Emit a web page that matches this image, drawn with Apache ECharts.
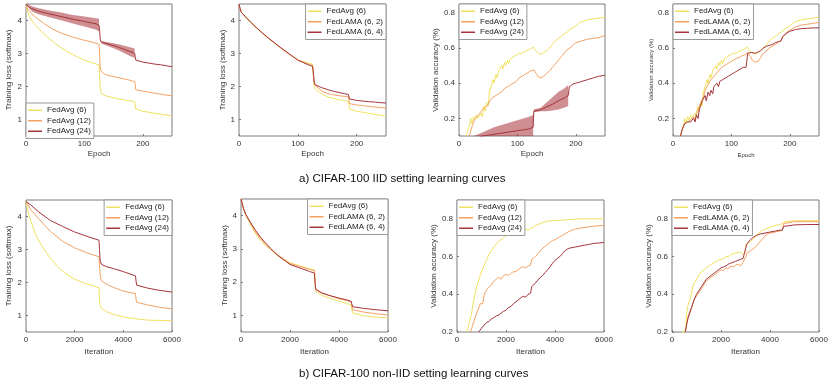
<!DOCTYPE html>
<html><head><meta charset="utf-8">
<script src="https://cdn.jsdelivr.net/npm/echarts@6/dist/echarts.min.js"></script>
<style>html,body{margin:0;padding:0;background:#fff}#c{width:831px;height:384px}</style>
</head><body><div id="c"></div><script>
// ---------- DATA ----------
// Panel 1: CIFAR-100 IID, training loss, FedAvg
const p1Ep = [0,3,6,10,15,20,30,40,50,60,70,80,90,100,110,120,125,126,127,128,130,135,140,150,160,170,180,186,187,188,190,200,210,220,230,240,250];
const p1Fed6 = [4.45,4.25,4.12,4.0,3.88,3.78,3.6,3.45,3.3,3.18,3.07,2.97,2.88,2.8,2.74,2.68,2.65,2.4,2.0,1.85,1.78,1.73,1.7,1.66,1.62,1.59,1.56,1.54,1.45,1.32,1.28,1.25,1.22,1.19,1.16,1.13,1.11];
const p1Fed12 = [4.45,4.35,4.28,4.2,4.12,4.05,3.92,3.8,3.7,3.62,3.56,3.5,3.45,3.4,3.36,3.31,3.28,3.0,2.6,2.48,2.42,2.37,2.34,2.3,2.26,2.22,2.18,2.15,2.05,1.9,1.88,1.86,1.83,1.8,1.77,1.74,1.72];
const p1RedEp = [0,5,10,20,40,60,80,100,120,125,126,127,128,129,140,150,160,170,180,186,187,188,190,200,210,220,230,240,250];
const p1Fed24 = [4.5,4.4,4.36,4.29,4.2,4.12,4.04,3.97,3.9,3.86,3.7,3.45,3.36,3.34,3.29,3.24,3.18,3.11,3.05,3.01,2.9,2.8,2.77,2.74,2.71,2.68,2.66,2.63,2.6];
const p1BandAEp = [2,10,20,40,60,80,100,120,125];
const p1BandAHi = [4.5,4.43,4.38,4.3,4.24,4.17,4.12,4.07,4.05];
const p1BandALo = [4.45,4.28,4.2,4.1,4.01,3.91,3.82,3.72,3.67];
const p1BandBEp = [129,140,150,160,170,180,186];
const p1BandBHi = [3.37,3.34,3.31,3.27,3.23,3.18,3.15];
const p1BandBLo = [3.3,3.23,3.16,3.08,2.99,2.91,2.86];

// Panel 2: CIFAR-100 IID, training loss, FedAvg vs FedLAMA
const p2Ep = [0,2,4,6,10,20,30,40,50,60,70,80,90,100,110,120,125,126,127,128,130,140,150,160,170,180,186,187,188,190,200,210,220,230,240,250];
const p2Fed6 = [4.5,4.35,4.25,4.2,4.13,3.94,3.77,3.61,3.46,3.32,3.18,3.05,2.92,2.81,2.75,2.7,2.68,2.5,2.2,2.0,1.92,1.78,1.69,1.64,1.6,1.57,1.55,1.45,1.32,1.28,1.25,1.22,1.19,1.16,1.13,1.11];
const p2Lama62 = [4.5,4.35,4.25,4.2,4.13,3.94,3.77,3.61,3.46,3.32,3.18,3.05,2.92,2.8,2.73,2.67,2.65,2.5,2.25,2.06,2.0,1.87,1.79,1.75,1.72,1.7,1.69,1.6,1.48,1.46,1.44,1.42,1.4,1.38,1.36,1.35];
const p2Lama64 = [4.5,4.35,4.25,4.2,4.13,3.95,3.78,3.62,3.47,3.33,3.19,3.06,2.93,2.8,2.72,2.64,2.61,2.5,2.3,2.12,2.05,1.97,1.91,1.86,1.82,1.78,1.76,1.7,1.62,1.6,1.58,1.56,1.54,1.53,1.51,1.5];

// Panels 3 & 4: CIFAR-100 IID, validation accuracy
const accFed6Ep = [12,15,18,20,22,25,27,30,32,35,38,40,42,45,47,50,52,55,58,60,63,65,68,70,73,75,78,80,83,85,88,90,93,95,98,100,103,105,108,110,113,115,118,120,123,125,127,130,133,136,140,143,146,150,155,160,165,170,175,180,185,190,195,200,205,210,220,230,240,250];
const accFed6 = [0.1,0.13,0.16,0.2,0.17,0.21,0.19,0.22,0.2,0.19,0.23,0.21,0.27,0.24,0.29,0.27,0.35,0.38,0.42,0.4,0.45,0.43,0.47,0.46,0.5,0.48,0.52,0.5,0.53,0.51,0.54,0.53,0.55,0.54,0.56,0.55,0.57,0.56,0.57,0.56,0.58,0.57,0.59,0.58,0.595,0.59,0.605,0.59,0.58,0.57,0.565,0.57,0.575,0.585,0.6,0.62,0.64,0.655,0.665,0.68,0.69,0.705,0.715,0.725,0.74,0.75,0.76,0.765,0.77,0.775];
const accFed12Ep = [18,20,23,25,28,30,33,35,38,40,43,45,48,50,53,55,58,60,63,65,68,70,73,75,78,80,83,85,88,90,93,95,98,100,103,105,108,110,113,115,118,120,123,125,128,130,133,136,140,145,150,155,160,165,170,175,180,185,190,195,200,210,220,230,240,250];
const accFed12 = [0.1,0.13,0.16,0.18,0.2,0.21,0.22,0.23,0.24,0.25,0.26,0.25,0.27,0.27,0.3,0.3,0.32,0.31,0.33,0.32,0.34,0.33,0.35,0.35,0.37,0.36,0.38,0.38,0.39,0.39,0.4,0.41,0.41,0.42,0.43,0.43,0.44,0.44,0.45,0.45,0.46,0.455,0.47,0.46,0.475,0.465,0.45,0.435,0.43,0.44,0.455,0.47,0.49,0.51,0.53,0.55,0.57,0.59,0.6,0.615,0.63,0.64,0.65,0.655,0.66,0.67];
const accFed24Ep = [25,40,60,80,100,120,127,128,130,140,150,160,170,180,187,189,190,195,200,210,220,230,240,250];
const accFed24 = [0.08,0.1,0.11,0.12,0.13,0.14,0.15,0.24,0.245,0.25,0.265,0.28,0.3,0.315,0.33,0.38,0.39,0.395,0.4,0.41,0.42,0.43,0.44,0.445];
const accBandAEp = [25,40,60,80,100,120,127];
const accBandAHi = [0.1,0.12,0.15,0.17,0.19,0.21,0.22];
const accBandALo = [0.05,0.05,0.05,0.05,0.05,0.05,0.05];
const accBandBEp = [128,140,150,160,170,180,187];
const accBandBHi = [0.25,0.26,0.29,0.32,0.35,0.37,0.39];
const accBandBLo = [0.235,0.24,0.24,0.245,0.25,0.26,0.27];
const accLama62Ep = [13,16,20,25,30,35,38,40,43,45,48,50,53,55,58,60,63,65,68,70,73,75,78,80,83,85,88,90,93,95,98,100,103,105,108,110,113,115,118,120,123,125,127,130,133,136,140,143,146,150,153,157,160,165,170,175,180,185,188,190,195,200,210,220,230,240,250];
const accLama62 = [0.1,0.14,0.17,0.18,0.19,0.21,0.19,0.23,0.25,0.24,0.29,0.31,0.33,0.36,0.38,0.37,0.41,0.4,0.43,0.44,0.45,0.46,0.47,0.475,0.49,0.49,0.5,0.5,0.51,0.515,0.52,0.525,0.53,0.53,0.54,0.535,0.545,0.55,0.555,0.55,0.56,0.565,0.575,0.565,0.55,0.53,0.52,0.515,0.525,0.545,0.565,0.575,0.58,0.6,0.61,0.62,0.63,0.645,0.665,0.675,0.69,0.7,0.72,0.73,0.735,0.74,0.745];
const accLama64Ep = [13,16,20,25,30,33,35,38,40,43,45,48,50,53,55,57,60,63,65,68,70,73,75,78,80,83,85,88,90,93,95,98,100,103,105,108,110,113,115,118,120,123,125,127,128,130,135,140,145,150,155,160,165,170,175,180,185,188,190,195,200,210,220,230,240,250];
const accLama64 = [0.1,0.14,0.17,0.18,0.18,0.17,0.2,0.18,0.22,0.2,0.25,0.26,0.3,0.29,0.33,0.3,0.35,0.33,0.36,0.34,0.38,0.37,0.4,0.38,0.41,0.4,0.42,0.41,0.43,0.42,0.44,0.43,0.45,0.44,0.46,0.45,0.47,0.46,0.48,0.47,0.49,0.48,0.49,0.5,0.57,0.575,0.575,0.57,0.575,0.585,0.6,0.61,0.615,0.62,0.63,0.635,0.64,0.665,0.675,0.685,0.695,0.705,0.71,0.712,0.714,0.715];

// Panel 5: CIFAR-100 non-IID, training loss, FedAvg
const nl5Fed6It = [0,100,200,300,400,500,700,1000,1300,1600,2000,2400,2800,3000,3020,3050,3100,3300,3600,4000,4400,4700,5000,5500,6000];
const nl5Fed6 = [4.45,4.1,3.85,3.65,3.45,3.3,3.05,2.73,2.48,2.28,2.1,1.98,1.89,1.84,1.5,1.3,1.22,1.12,1.03,0.96,0.91,0.88,0.86,0.85,0.84];
const nl5It = [0,200,500,1000,1500,2000,2500,3000,3020,3050,3100,3300,3600,4000,4500,4520,4550,4600,5000,5500,6000];
const nl5Fed12 = [4.45,4.2,3.95,3.55,3.25,3.05,2.9,2.78,2.5,2.2,2.05,1.95,1.85,1.74,1.66,1.5,1.4,1.38,1.32,1.25,1.2];
const nl5Fed24 = [4.45,4.35,4.15,3.88,3.7,3.53,3.4,3.28,3.0,2.65,2.55,2.48,2.42,2.33,2.2,2.05,1.92,1.89,1.83,1.76,1.71];

// Panel 6: CIFAR-100 non-IID, training loss, FedAvg vs FedLAMA
const nl6It = [0,100,200,400,600,800,1000,1200,1500,2000,2500,2800,3000,3020,3050,3100,3300,3600,4000,4300,4500,4520,4560,4600,5000,5500,6000];
const nl6Fed6 = [4.5,4.2,4.0,3.72,3.45,3.25,3.1,2.98,2.8,2.58,2.47,2.4,2.36,2.0,1.72,1.67,1.6,1.52,1.43,1.36,1.3,1.2,1.07,1.04,0.99,0.95,0.92];
const nl6Lama62 = [4.5,4.22,4.02,3.75,3.5,3.3,3.14,3.0,2.82,2.56,2.45,2.38,2.35,2.05,1.8,1.75,1.68,1.6,1.5,1.45,1.4,1.3,1.17,1.14,1.1,1.05,1.01];
const nl6Lama64 = [4.5,4.22,4.03,3.78,3.55,3.35,3.18,3.02,2.8,2.53,2.4,2.32,2.27,2.0,1.78,1.74,1.67,1.6,1.52,1.47,1.42,1.35,1.26,1.25,1.21,1.17,1.14];

// Panel 7: CIFAR-100 non-IID, validation accuracy, FedAvg
const na7Fed6It = [380,450,500,550,600,650,700,750,800,900,1000,1100,1200,1300,1400,1500,1600,1700,1800,1900,2000,2200,2400,2600,2800,2900,3000,3100,3200,3400,3600,3800,4000,4500,5000,5500,6000];
const na7Fed6 = [0.2,0.22,0.25,0.26,0.3,0.35,0.38,0.41,0.44,0.48,0.52,0.55,0.58,0.61,0.63,0.65,0.665,0.68,0.69,0.7,0.71,0.72,0.735,0.74,0.745,0.74,0.75,0.755,0.765,0.775,0.785,0.79,0.79,0.795,0.8,0.8,0.8];
const na7Fed12It = [544,600,700,750,800,850,900,950,1000,1050,1100,1150,1200,1250,1300,1400,1500,1550,1600,1700,1800,1900,2000,2100,2200,2300,2400,2500,2600,2700,2800,2900,3000,3050,3100,3200,3300,3400,3500,3600,3700,3800,3900,4000,4200,4400,4600,4800,5000,5500,6000];
const na7Fed12 = [0.2,0.22,0.26,0.28,0.3,0.29,0.33,0.35,0.36,0.35,0.39,0.41,0.4,0.43,0.44,0.45,0.47,0.46,0.48,0.49,0.48,0.5,0.505,0.5,0.51,0.52,0.52,0.53,0.54,0.545,0.54,0.55,0.555,0.585,0.59,0.6,0.615,0.63,0.645,0.655,0.665,0.675,0.685,0.69,0.705,0.72,0.735,0.745,0.75,0.76,0.765];
const na7Fed24It = [884,950,1000,1100,1200,1300,1400,1500,1600,1700,1800,1900,2000,2100,2200,2300,2400,2500,2600,2700,2800,2900,3000,3050,3100,3200,3300,3400,3500,3600,3700,3800,3900,4000,4100,4200,4300,4400,4500,4600,4800,5000,5200,5400,5600,5800,6000];
const na7Fed24 = [0.2,0.21,0.22,0.235,0.25,0.255,0.27,0.275,0.285,0.29,0.3,0.31,0.315,0.33,0.335,0.35,0.36,0.37,0.38,0.39,0.385,0.4,0.405,0.44,0.45,0.46,0.475,0.49,0.5,0.515,0.53,0.545,0.565,0.58,0.59,0.6,0.615,0.63,0.64,0.645,0.65,0.655,0.66,0.665,0.67,0.672,0.675];

// Panel 8: CIFAR-100 non-IID, validation accuracy, FedAvg vs FedLAMA
const na8Fed6It = [380,500,560,600,650,700,750,800,850,900,1000,1100,1200,1300,1400,1500,1600,1700,1800,1900,2000,2100,2200,2300,2400,2500,2600,2700,2800,2900,2980,3020,3100,3200,3300,3400,3500,3600,3700,3800,4000,4200,4400,4500,4560,4600,5000,5500,6000];
const na8Fed6 = [0.2,0.2,0.22,0.3,0.34,0.36,0.38,0.41,0.44,0.46,0.48,0.5,0.52,0.53,0.54,0.55,0.56,0.565,0.575,0.58,0.585,0.59,0.6,0.6,0.61,0.615,0.62,0.62,0.625,0.61,0.625,0.665,0.67,0.68,0.69,0.705,0.72,0.73,0.74,0.745,0.755,0.765,0.77,0.775,0.78,0.785,0.79,0.79,0.79];
const na8Lama62It = [545,600,650,700,800,900,1000,1100,1200,1300,1400,1500,1600,1700,1800,1900,2000,2100,2200,2300,2400,2500,2600,2700,2800,2900,2980,3020,3050,3100,3200,3300,3400,3500,3600,3700,3800,3900,4000,4200,4400,4500,4560,4600,5000,5500,6000];
const na8Lama62 = [0.2,0.25,0.28,0.3,0.33,0.37,0.39,0.41,0.43,0.45,0.47,0.48,0.49,0.5,0.51,0.52,0.53,0.525,0.54,0.535,0.55,0.545,0.555,0.56,0.55,0.57,0.575,0.6,0.62,0.625,0.63,0.64,0.65,0.665,0.68,0.695,0.71,0.72,0.725,0.73,0.735,0.74,0.775,0.78,0.785,0.785,0.785];
const na8Lama64It = [545,600,650,700,800,900,1000,1100,1200,1300,1400,1500,1600,1700,1800,1900,2000,2100,2200,2300,2400,2500,2600,2700,2800,2900,2980,3020,3050,3100,3200,3300,3400,3500,3600,3800,4000,4200,4400,4500,4560,4600,5000,5500,6000];
const na8Lama64 = [0.2,0.24,0.27,0.29,0.33,0.37,0.4,0.42,0.44,0.46,0.48,0.49,0.5,0.51,0.52,0.53,0.54,0.545,0.55,0.56,0.565,0.57,0.575,0.58,0.585,0.59,0.59,0.65,0.665,0.675,0.69,0.7,0.71,0.715,0.72,0.725,0.73,0.735,0.74,0.74,0.76,0.765,0.768,0.77,0.77];

const lossTicks = [1,2,3,4];
const accTicks = [0.2,0.4,0.6,0.8];
const epochTicks = [0,100,200];
const iterTicks = [0,2000,4000,6000];
const captionA = 'a) CIFAR-100 IID setting learning curves';
const captionB = 'b) CIFAR-100 non-IID setting learning curves';

// ---------- STYLE / LAYOUT ----------
const FONT = '"Liberation Sans", Arial, Helvetica, sans-serif';
const COL = {y:'#f0e160', o:'#f4a263', r:'#a5363b'};
const BAND = 'rgba(165,50,57,0.55)';
const FRAME = '#7a7a7a';
const zip = (xs, ys) => xs.map((x, i) => [x, ys[i]]);

const panels = [
  {box:[26,4,146,132], x:[0,250,epochTicks], y:[0.5,4.5,lossTicks], xn:'Epoch', yn:'Training loss (softmax)', ygap:13, xgap:14, ns:8,
   leg:{left:26, top:103},
   lines:[['FedAvg (6)',p1Ep,p1Fed6,'y'],['FedAvg (12)',p1Ep,p1Fed12,'o'],['FedAvg (24)',p1RedEp,p1Fed24,'r']],
   bands:[[p1BandAEp,p1BandAHi,p1BandALo],[p1BandBEp,p1BandBHi,p1BandBLo]]},
  {box:[239,4,147,132], x:[0,250,epochTicks], y:[0.5,4.5,lossTicks], xn:'Epoch', yn:'Training loss (softmax)', ygap:11, xgap:14, ns:8,
   leg:{right:831-386, top:4},
   lines:[['FedAvg (6)',p2Ep,p2Fed6,'y'],['FedLAMA (6, 2)',p2Ep,p2Lama62,'o'],['FedLAMA (6, 4)',p2Ep,p2Lama64,'r']]},
  {box:[459,4,146,132], x:[0,250,epochTicks], y:[0.1,0.85,accTicks], xn:'Epoch', yn:'Validation accuracy (%)', ygap:17, xgap:14, ns:8,
   leg:{left:459, top:4},
   lines:[['FedAvg (6)',accFed6Ep,accFed6,'y'],['FedAvg (12)',accFed12Ep,accFed12,'o'],['FedAvg (24)',accFed24Ep,accFed24,'r']],
   bands:[[accBandAEp,accBandAHi,accBandALo],[accBandBEp,accBandBHi,accBandBLo]]},
  {box:[673,4,146,132], x:[0,250,epochTicks], y:[0.1,0.85,accTicks], xn:'Epoch', yn:'Validation accuracy (%)', ygap:18, xgap:16, ns:6,
   leg:{left:673, top:4},
   lines:[['FedAvg (6)',accFed6Ep,accFed6,'y'],['FedLAMA (6, 2)',accLama62Ep,accLama62,'o'],['FedLAMA (6, 4)',accLama64Ep,accLama64,'r']]},
  {box:[26,200,146,132], x:[0,6000,iterTicks], y:[0.5,4.5,lossTicks], xn:'Iteration', yn:'Training loss (softmax)', ygap:13, xgap:16, ns:8,
   leg:{right:831-172, top:200},
   lines:[['FedAvg (6)',nl5Fed6It,nl5Fed6,'y'],['FedAvg (12)',nl5It,nl5Fed12,'o'],['FedAvg (24)',nl5It,nl5Fed24,'r']]},
  {box:[241,199,147,133], x:[0,6000,iterTicks], y:[0.5,4.5,lossTicks], xn:'Iteration', yn:'Training loss (softmax)', ygap:11, xgap:16, ns:8,
   leg:{right:831-388, top:199},
   lines:[['FedAvg (6)',nl6It,nl6Fed6,'y'],['FedLAMA (6, 2)',nl6It,nl6Lama62,'o'],['FedLAMA (6, 4)',nl6It,nl6Lama64,'r']]},
  {box:[457,200,147,132], x:[0,6000,iterTicks], y:[0.2,0.9,accTicks], xn:'Iteration', yn:'Validation accuracy (%)', ygap:19, xgap:16, ns:8,
   leg:{left:457, top:200},
   lines:[['FedAvg (6)',na7Fed6It,na7Fed6,'y'],['FedAvg (12)',na7Fed12It,na7Fed12,'o'],['FedAvg (24)',na7Fed24It,na7Fed24,'r']]},
  {box:[672,200,147,132], x:[0,6000,iterTicks], y:[0.2,0.9,accTicks], xn:'Iteration', yn:'Validation accuracy (%)', ygap:18, xgap:16, ns:8,
   leg:{left:672, top:200},
   lines:[['FedAvg (6)',na8Fed6It,na8Fed6,'y'],['FedLAMA (6, 2)',na8Lama62It,na8Lama62,'o'],['FedLAMA (6, 4)',na8Lama64It,na8Lama64,'r']]}
];

const grid = [], xAxis = [], yAxis = [], series = [], legend = [];
panels.forEach((p, i) => {
  grid.push({left:p.box[0], top:p.box[1], width:p.box[2], height:p.box[3], show:true,
    borderColor:FRAME, borderWidth:1, backgroundColor:'transparent', containLabel:false});
  const lab = {fontSize:8, color:'#333', fontFamily:FONT};
  xAxis.push({type:'value', gridIndex:i, min:p.x[0], max:p.x[1],
    name:p.xn, nameLocation:'middle', nameGap:p.xgap,
    nameTextStyle:{fontSize:p.ns, color:'#333', fontFamily:FONT},
    axisLine:{show:false}, splitLine:{show:false},
    axisTick:{show:true, inside:true, length:2, customValues:p.x[2], lineStyle:{color:FRAME}},
    axisLabel:Object.assign({margin:4, customValues:p.x[2], formatter: v => String(Math.round(v))}, lab)});
  const isAcc = p.y[2] === accTicks;
  yAxis.push({type:'value', gridIndex:i, min:p.y[0], max:p.y[1],
    name:p.yn, nameLocation:'middle', nameGap:p.ygap,
    nameTextStyle:{fontSize:p.ns, color:'#333', fontFamily:FONT},
    axisLine:{show:false}, splitLine:{show:false},
    axisTick:{show:true, inside:true, length:2, customValues:p.y[2], lineStyle:{color:FRAME}},
    axisLabel:Object.assign({margin:4, customValues:p.y[2],
      formatter: v => isAcc ? Number(v).toFixed(1) : String(Math.round(v))}, lab)});
  (p.bands || []).forEach(b => {
    const upper = zip(b[0], b[1]), lower = zip(b[0], b[2]);
    series.push({type:'custom', xAxisIndex:i, yAxisIndex:i, clip:true, silent:true, z:1,
      data: upper, encode:{x:0, y:1},
      renderItem: (params, api) => {
        if (params.dataIndex !== 0) return null;
        const pts = upper.map(q => api.coord(q)).concat(lower.slice().reverse().map(q => api.coord(q)));
        return {type:'polygon', shape:{points:pts}, style:{fill:BAND}};
      }});
  });
  p.lines.forEach(l => {
    series.push({type:'line', name:l[0], xAxisIndex:i, yAxisIndex:i, data:zip(l[1], l[2]),
      showSymbol:false, symbol:'none', clip:true, z:2, color:COL[l[3]],
      lineStyle:{width:1, color:COL[l[3]]}});
  });
  legend.push(Object.assign({
    data:p.lines.map(l => l[0]), orient:'vertical', icon:'rect', itemWidth:14, itemHeight:1.5,
    itemGap:0, padding:[2,3,2,2], backgroundColor:'#fff', borderColor:'#999', borderWidth:1, borderRadius:0,
    selectedMode:false, z:10,
    textStyle:{fontSize:8, color:'#222', fontFamily:FONT, lineHeight:10.5}
  }, p.leg));
});

const chart = echarts.init(document.getElementById('c'), null, {renderer:'canvas'});
chart.setOption({
  animation:false, backgroundColor:'#fff',
  title:[
    {text:captionA, left:299, top:173, textStyle:{fontSize:11.5, fontWeight:'normal', color:'#111', fontFamily:FONT}, padding:0},
    {text:captionB, left:299, top:368, textStyle:{fontSize:11.5, fontWeight:'normal', color:'#111', fontFamily:FONT}, padding:0}
  ],
  grid, xAxis, yAxis, series, legend, tooltip:{show:false}
});
</script></body></html>
